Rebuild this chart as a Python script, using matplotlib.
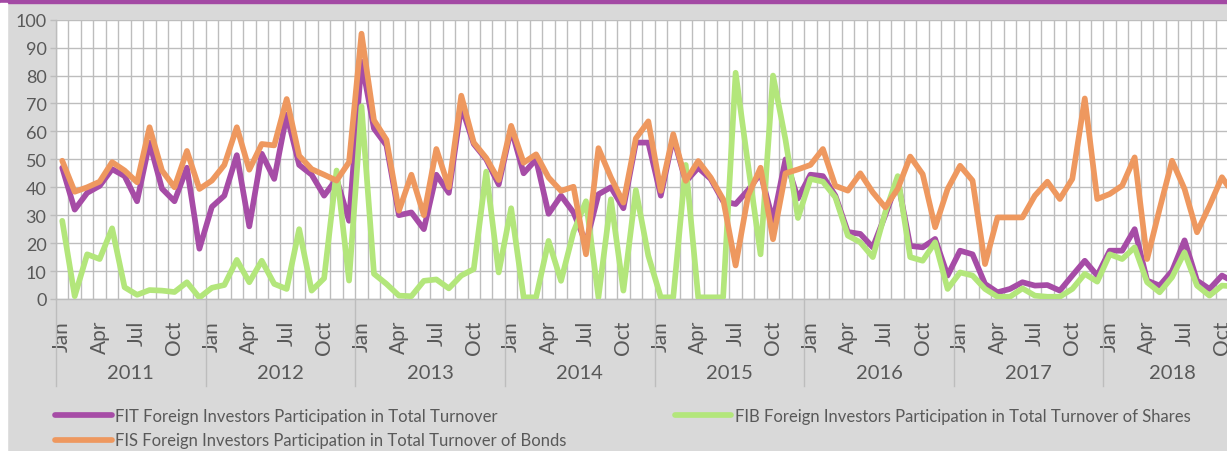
import matplotlib
matplotlib.use('Agg')
import matplotlib.pyplot as plt
from matplotlib.patches import Rectangle
import matplotlib.transforms as mtransforms

plt.rcParams['font.family'] = ['Lato', 'DejaVu Sans']

years = [2011, 2012, 2013, 2014, 2015, 2016, 2017, 2018]
months = ['Jan', 'Feb', 'Mar', 'Apr', 'May', 'Jun', 'Jul', 'Aug', 'Sep', 'Oct', 'Nov', 'Dec']
shown_months = ['Jan', 'Apr', 'Jul', 'Oct']

# FIT - foreign investors participation in total turnover (%), Jan 2011 .. Nov 2018
fit = [47, 32, 38, 40.5, 46.5, 44, 35, 56, 39.5, 35, 47, 18,
       33, 37, 51.5, 26, 52, 43, 66, 48, 44.5, 37, 43, 28,
       85, 61, 55, 30, 31, 25, 44.5, 38, 69, 55.5, 50, 41,
       61, 45, 50, 30.5, 37, 31, 20, 37.5, 40, 32.5, 56, 56,
       37, 58, 42, 47, 43, 35, 34, 39, 45, 28, 50, 36,
       44.5, 44, 37, 24, 23.3, 18.5, 30, 42.4, 19, 18.5, 21.5, 8.4,
       17.3, 16, 5.4, 2.4, 3.6, 6, 4.8, 5, 3, 8.4, 13.7, 8.4,
       17.3, 17.3, 25, 6.6, 4.8, 10, 21, 6.6, 3.6, 8.4, 6]

# FIB - shares
fib = [28, 1, 16, 14.3, 25.3, 4.2, 1.5, 3.2, 3, 2.5, 6, 0.5,
       4, 5, 14, 6, 13.7, 5.4, 3.6, 25, 3, 7.4, 46, 6.6,
       69, 9, 5.4, 1.2, 1, 6.5, 7, 3.8, 8.4, 10.7, 45.6, 9.5,
       32.5, 0.6, 0.6, 20.8, 6.5, 24, 35, 0.6, 35.7, 3, 39, 15.5,
       0.6, 0.6, 48, 0.6, 0.6, 0.6, 81, 48, 16, 80, 57, 29,
       43, 42, 36.4, 22.7, 20.3, 15, 31, 44, 15, 13.7, 20.3, 3.6,
       9.5, 8.4, 3.6, 0.8, 0.8, 3.8, 1.2, 0.8, 0.8, 3.6, 9, 6.2,
       16, 14.3, 18.5, 6, 2.4, 7.8, 16.7, 4.8, 1.2, 4.8, 4.5]

# FIS - bonds
fis = [49.5, 38.4, 40, 42, 49, 46, 41.8, 61.5, 46, 40, 53, 39.4,
       42.4, 48, 61.5, 46.3, 55.5, 55, 71.6, 51.3, 46.5, 44.5, 42.4, 49,
       95, 64, 57, 31.6, 44.5, 30, 53.7, 40, 72.8, 56, 50.5, 42.6,
       62, 48.8, 51.8, 43.5, 38.7, 40.2, 16, 54, 43.5, 34.5, 57.5, 63.6,
       38.7, 59, 42.3, 49.4, 43.5, 35.7, 12, 37, 47, 21.4, 45, 46.4,
       48, 53.7, 40.5, 38.8, 45, 38.2, 32.8, 39.4, 51, 44.7, 25.7, 39.4,
       47.7, 42.4, 12.5, 29.2, 29.2, 29.2, 37, 42, 35.8, 43, 71.8, 35.8,
       37.6, 40.6, 50.7, 14.3, 32.2, 49.5, 39.4, 23.9, 33.4, 43.6, 37]

labels = ['FIT Foreign Investors Participation in Total Turnover',
          'FIB Foreign Investors Participation in Total Turnover of Shares',
          'FIS Foreign Investors Participation in Total Turnover of Bonds']

PURPLE = '#a64ca6'
GREEN = '#b3e67b'
ORANGE = '#ee985f'
TXT = '#595959'
GRID = '#bdbdbd'

W, H = 1227, 452
n = len(fit)
step = 12.47
fig = plt.figure(figsize=(W / 100, H / 100), dpi=100, facecolor='#d9d9d9')
ax = fig.add_axes([56 / W, 1 - 300 / H, n * step / W, (300 - 20.7) / H])
ax.set_facecolor('white')

x = list(range(n))
lw = 4.1
ax.plot(x, fit, color=PURPLE, lw=lw, solid_joinstyle='round', solid_capstyle='round', label=labels[0], zorder=3)
ax.plot(x, fib, color=GREEN, lw=lw, solid_joinstyle='round', solid_capstyle='round', label=labels[1], zorder=3)
ax.plot(x, fis, color=ORANGE, lw=lw, solid_joinstyle='round', solid_capstyle='round', label=labels[2], zorder=3)

ax.set_xlim(-0.5, n - 0.5)
ax.set_ylim(0, 100)
ax.set_yticks(range(0, 101, 10))
ax.tick_params(axis='y', length=4.3, width=1, color=GRID, pad=2.5, labelsize=13, labelcolor=TXT)

# month labels
ax.set_xticks(x)
ax.set_xticklabels([months[i % 12] if months[i % 12] in shown_months else '' for i in x],
                   rotation=90, va='top', ha='center')
ax.tick_params(axis='x', length=0, pad=15, labelsize=15, labelcolor=TXT)

# grid at every category boundary
for b in range(n + 1):
    ax.axvline(b - 0.5, color=GRID, lw=1, zorder=1)
ax.yaxis.grid(True, color=GRID, lw=1, zorder=1)
ax.set_axisbelow(True)
for s in ['top', 'right']:
    ax.spines[s].set_visible(False)
for s in ['left', 'bottom']:
    ax.spines[s].set_color(GRID)
    ax.spines[s].set_linewidth(1)

# year groups
trans = mtransforms.blended_transform_factory(ax.transData, ax.transAxes)
ax_h = 300 - 20.7
for k, yr in enumerate(years):
    start = 12 * k
    end = min(12 * k + 12, n)
    ax.plot([start - 0.5, start - 0.5], [0, -87 / ax_h], transform=trans, color=GRID, lw=1, clip_on=False)
    ax.text((start + end - 1) / 2, -73.5 / ax_h, str(yr), transform=trans, ha='center', va='center',
            fontsize=14.5, color=TXT)

# top band and left strip
fig.patches.append(Rectangle((0, 1 - 4 / H), 1, 4 / H, transform=fig.transFigure, color='#a349a4', zorder=0))
fig.patches.append(Rectangle((0, 0), 7 / W, 1 - 4 / H, transform=fig.transFigure, color='white', zorder=0))

h = ax.get_lines()
fig.legend([h[0], h[2], h[1]], [labels[0], labels[2], labels[1]], loc='upper left',
           bbox_to_anchor=(55 / W, 1 - 409 / H), ncol=2, frameon=False, fontsize=12,
           handlelength=3.4, handletextpad=0.2, columnspacing=6.5, labelspacing=0.5,
           borderpad=0, borderaxespad=0, labelcolor=TXT)

fig.savefig('out.png', dpi=100, facecolor=fig.get_facecolor())
